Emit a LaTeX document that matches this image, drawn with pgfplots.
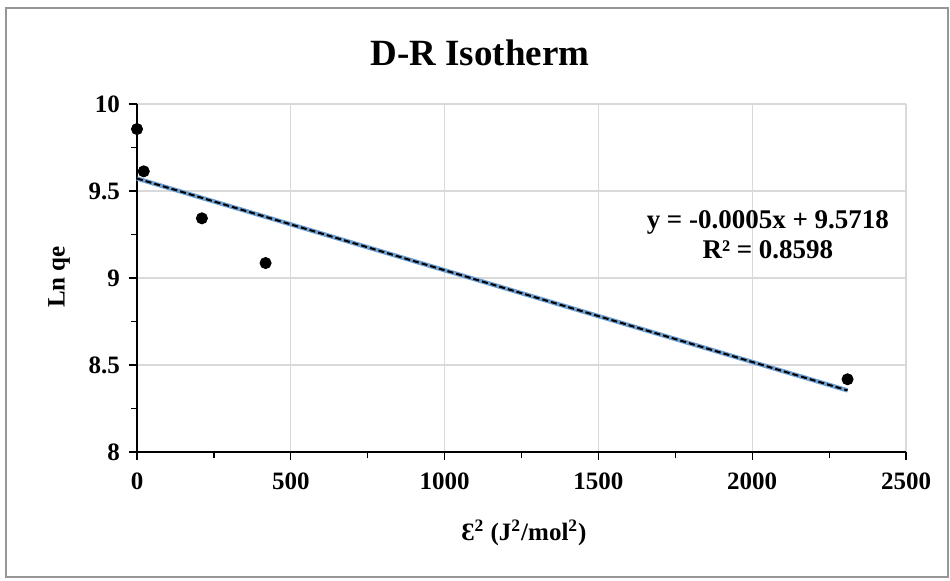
\documentclass[border=0pt]{standalone}
\usepackage{fontspec}
\setmainfont{Liberation Serif}
\usepackage{pgfplots}
\pgfplotsset{compat=1.18}
\definecolor{gridgray}{RGB}{217,217,217}
\definecolor{framegray}{RGB}{150,150,150}
\definecolor{trendblue}{RGB}{110,160,210}
\begin{document}
\begin{tikzpicture}
\path[use as bounding box] (0,0) rectangle (475pt,290pt);
\draw[framegray, line width=0.6pt] (3pt,1.5pt) rectangle (474pt,286pt);
\node[font=\fontsize{18.5}{21}\selectfont\bfseries] at (240pt,263.5pt) {D-R Isotherm};
\begin{axis}[
  at={(68.5pt,64pt)}, anchor=south west,
  scale only axis, width=384.5pt, height=174pt,
  xmin=0, xmax=2500, ymin=8, ymax=10,
  xtick={0,500,1000,1500,2000,2500},
  ytick={8,8.5,9,9.5,10},
  minor xtick={250,750,1250,1750,2250},
  minor ytick={8.25,8.75,9.25,9.75},
  axis x line*=bottom, axis y line*=left,
  axis line style={-, black, line width=0.8pt},
  tick style={black, line width=0.6pt},
  tick align=outside,
  major tick length=4pt, minor tick length=3pt,
  grid=major,
  major grid style={gridgray, line width=0.6pt},
  minor grid style={draw=none},
  /pgf/number format/assume math mode=true,
  /pgf/number format/1000 sep={},
  ticklabel style={font=\fontsize{12.5}{14}\selectfont\bfseries},
  xticklabel style={yshift=-3pt},
  yticklabel style={xshift=-1pt},
  yticklabel={\pgfmathprintnumber[fixed,precision=1]{\tick}},
  clip=false,
]
\addplot[trendblue, line width=2.2pt] coordinates {(0,9.5718) (2310,8.354)};
\addplot[black, line width=1pt, dash pattern=on 3pt off 1.5pt] coordinates {(0,9.5718) (2310,8.354)};
\addplot[only marks, mark=*, mark size=2.8pt, black] coordinates {
  (0,9.856) (22,9.613) (211,9.343) (418,9.086) (2310,8.418)
};
\node[align=center, font=\fontsize{13.5}{15}\selectfont\bfseries] at (axis cs:2051,9.25) {y = -0.0005x + 9.5718\\R² = 0.8598};
\end{axis}
\node[rotate=90, font=\fontsize{12.5}{14}\selectfont\bfseries] at (29.5pt,151.5pt) {Ln qe};
\node[font=\fontsize{12.5}{14}\selectfont\bfseries] at (262pt,23.5pt) {Ɛ\textsuperscript{2} (J\textsuperscript{2}/mol\textsuperscript{2})};
\end{tikzpicture}
\end{document}
